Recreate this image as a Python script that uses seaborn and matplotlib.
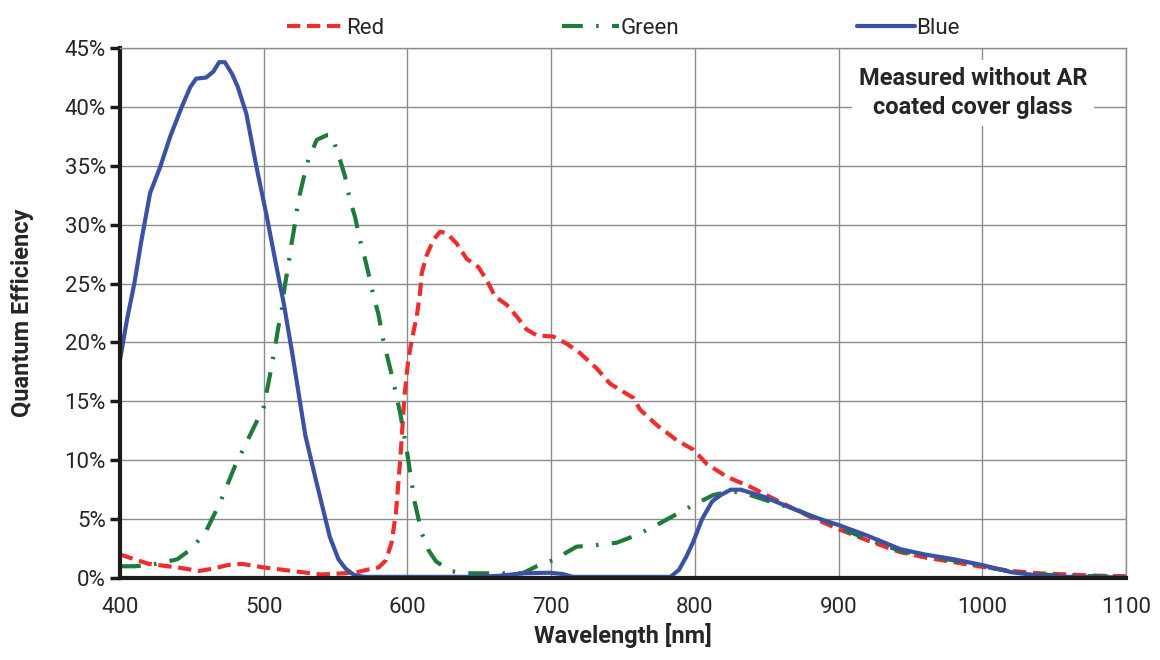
import matplotlib
matplotlib.use("Agg")
import matplotlib.pyplot as plt
import seaborn as sns
import pandas as pd
from matplotlib.ticker import FuncFormatter, MultipleLocator

# ---------------- data ----------------
red_nm = [400, 410, 420, 440, 455, 465, 475, 485, 500, 520, 540, 555, 565, 572, 580, 585,
          589, 592, 595, 598, 600.6, 603, 606.5, 608.8, 610, 613.4, 618, 622.7, 627.3, 634.3,
          641.3, 649.4, 655.2, 661, 669.1, 676.1, 683, 690, 701.5, 710.8, 720.1, 731.7, 741,
          750.3, 757.2, 761.9, 773.4, 787.4, 799, 808.2, 822.2, 838.4, 857, 880.2, 901, 920,
          942.8, 960, 980, 1000, 1020, 1040, 1060, 1080, 1100]
red_qe = [2.0, 1.6, 1.2, 0.9, 0.6, 0.8, 1.1, 1.2, 0.9, 0.6, 0.3, 0.4, 0.5, 0.7, 0.9, 1.5,
          3.0, 5.5, 10.0, 15.5, 18.5, 20.2, 22.2, 24.2, 25.9, 27.4, 28.7, 29.4, 29.3, 28.4,
          27.1, 26.4, 25.3, 23.9, 23.2, 22.2, 21.1, 20.6, 20.5, 19.9, 19.1, 17.8, 16.5,
          15.8, 15.3, 14.3, 13.0, 11.7, 10.9, 9.7, 8.6, 7.75, 6.6, 5.2, 4.1, 3.2,
          2.2, 1.75, 1.35, 0.95, 0.6, 0.4, 0.3, 0.2, 0.15]

green_nm = [400, 410, 420, 430, 440, 450, 460, 470, 480, 490, 500, 504, 507.9, 510.2, 512.5,
            514.8, 517, 519.4, 521.8, 524, 527.5, 531, 536.9, 543.9, 547.2, 551.9, 556.6, 560,
            563.5, 567, 570.5, 574, 576.8, 579.7, 583.2, 590, 595, 600, 605, 610, 615, 620,
            630, 640, 660, 680, 690, 701.5, 717.7, 731.7, 745.6, 759.5, 773.4, 786.2, 799,
            812.9, 822.2, 830, 838.4, 852.3, 870.9, 900, 920, 943, 960, 980, 1000, 1020, 1040,
            1060, 1080, 1100]
green_qe = [1.0, 1.0, 1.1, 1.3, 1.6, 2.5, 4.0, 6.5, 9.5, 12.0, 14.5, 17.0, 19.6, 21.3, 22.7,
            24.9, 26.4, 28.4, 30.1, 32.0, 33.8, 35.5, 37.2, 37.6, 37.6, 36.0, 34.1, 32.1,
            30.7, 28.7, 27.1, 25.3, 23.7, 22.5, 20.2, 16.8, 14.0, 10.5, 6.5, 3.8, 2.3, 1.4,
            0.6, 0.4, 0.4, 0.4, 1.0, 1.53, 2.66, 2.8, 3.0, 3.65, 4.5, 5.35, 6.2,
            7.05, 7.3, 7.3, 7.05, 6.5, 5.8, 4.3, 3.3, 2.3, 1.9, 1.5, 1.0, 0.55, 0.3,
            0.2, 0.15, 0.1]

blue_nm = [400, 405, 410, 415, 421, 428, 435, 443, 449, 453, 460, 465, 469, 473, 478, 482,
           488, 495, 502, 508, 514, 520, 529, 536, 546, 552, 557, 563, 570, 600, 650, 665,
           680, 699, 708, 715, 750, 783, 789, 794, 799, 805, 812, 818, 825, 832, 840, 848,
           860, 870, 880, 900, 920, 943, 960, 980, 1000, 1010, 1020, 1040, 1060, 1100]
blue_qe = [18.5, 22.0, 25.0, 28.7, 32.7, 34.9, 37.5, 40.0, 41.7, 42.4, 42.5, 43.0, 43.8,
           43.8, 42.8, 41.7, 39.4, 34.9, 30.8, 27.0, 23.3, 19.0, 12.1, 8.5, 3.5, 1.6, 0.8,
           0.25, 0.1, 0.1, 0.1, 0.2, 0.4, 0.45, 0.34, 0.1, 0.1, 0.1, 0.7, 1.8, 3.1, 5.0,
           6.5, 7.05, 7.5, 7.5, 7.2, 6.9, 6.3, 5.8, 5.3, 4.5, 3.6, 2.45, 2.0, 1.6, 1.1, 0.8,
           0.5, 0.2, 0.1, 0.05]

x_ticks = [400, 500, 600, 700, 800, 900, 1000, 1100]
y_ticks = [0, 5, 10, 15, 20, 25, 30, 35, 40, 45]
annotation = "Measured without AR\ncoated cover glass"

# ---------------- plot ----------------
sns.set_style("white")
plt.rcParams["font.family"] = ["Roboto", "DejaVu Sans"]

fig = plt.figure(figsize=(11.6, 6.6), dpi=100)
ax = fig.add_axes([0.1034, 0.1242, 0.8673, 0.8030])

red_c = "#EE2D2D"
green_c = "#1E7B3A"
blue_c = "#3A52A4"

sns.lineplot(x=red_nm, y=red_qe, ax=ax, color=red_c, lw=3,
             linestyle=(0, (3.2, 1.6)), label="Red", sort=False, estimator=None)
sns.lineplot(x=green_nm, y=green_qe, ax=ax, color=green_c, lw=3,
             linestyle=(0, (5, 3.2, 0.6, 3.2)), label="Green", sort=False, estimator=None)
sns.lineplot(x=blue_nm, y=blue_qe, ax=ax, color=blue_c, lw=3,
             linestyle="-", label="Blue", sort=False, estimator=None)

ax.set_xlim(400, 1100)
ax.set_ylim(0, 45)
ax.set_xticks(x_ticks)
ax.set_yticks(y_ticks)
ax.yaxis.set_major_formatter(FuncFormatter(lambda v, p: f"{v:.0f}%"))
ax.grid(True, color="#8c8c8c", lw=1)
ax.set_axisbelow(True)

for s in ["top", "right"]:
    ax.spines[s].set_color("#8c8c8c")
    ax.spines[s].set_linewidth(1)
for s in ["left", "bottom"]:
    ax.spines[s].set_color("#1a1a1a")
    ax.spines[s].set_linewidth(3)

ax.tick_params(axis="y", direction="out", length=7, width=2.5, color="#1a1a1a",
               labelsize=16, pad=3, left=True)
ax.tick_params(axis="x", direction="out", length=0, labelsize=16, pad=14, bottom=True)

ax.set_xlabel("Wavelength [nm]", fontsize=17, fontweight="bold", labelpad=3)
ax.set_ylabel("Quantum Efficiency", fontsize=17, fontweight="bold", labelpad=22)

ax.text(0.848, 0.915, annotation, transform=ax.transAxes, ha="center", va="center",
        fontsize=17, fontweight="bold", linespacing=1.35,
        bbox=dict(boxstyle="square,pad=0.3", facecolor="white", edgecolor="none"))

leg = ax.legend(loc="lower center", bbox_to_anchor=(0.5, 1.0), ncol=3, frameon=False,
                fontsize=16, handlelength=2.6, handletextpad=0.05, columnspacing=8.0,
                borderaxespad=0.0)

fig.savefig("out.png", dpi=100)
